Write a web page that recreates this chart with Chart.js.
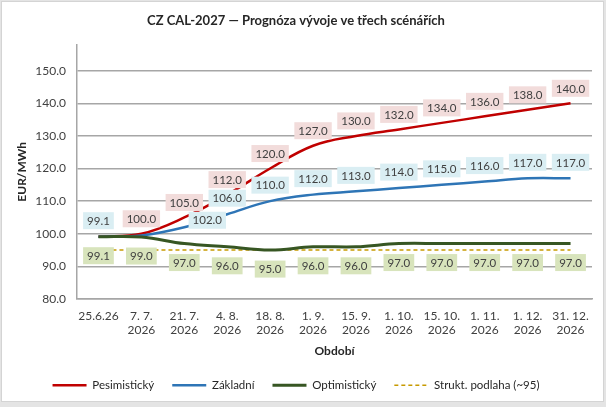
<!DOCTYPE html>
<html>
<head>
<meta charset="utf-8">
<script src="https://cdn.jsdelivr.net/npm/chart.js@4"></script>
<style>
  html, body { margin: 0; padding: 0; background: #e4e4e4; }
  #frame { position: absolute; left: 1px; top: 1px; width: 601px; height: 399px; background: #fff; border: 1px solid #d4d4d4; }
  #wrap { position: absolute; left: 0; top: 0; width: 606px; height: 407px; }
</style>
</head>
<body>
<div id="frame"></div>
<div id="wrap"><canvas id="mainChart"></canvas></div>
<script>
const periods = ['25.6.26', ['7. 7.', '2026'], ['21. 7.', '2026'], ['4. 8.', '2026'], ['18. 8.', '2026'],
  ['1. 9.', '2026'], ['15. 9.', '2026'], ['1. 10.', '2026'], ['15. 10.', '2026'], ['1. 11.', '2026'],
  ['1. 12.', '2026'], ['31. 12.', '2026']];
const pesimisticky = [99.1, 100.0, 105.0, 112.0, 120.0, 127.0, 130.0, 132.0, 134.0, 136.0, 138.0, 140.0];
const zakladni = [99.1, 99.5, 102.0, 106.0, 110.0, 112.0, 113.0, 114.0, 115.0, 116.0, 117.0, 117.0];
const optimisticky = [99.1, 99.0, 97.0, 96.0, 95.0, 96.0, 96.0, 97.0, 97.0, 97.0, 97.0, 97.0];
const podlaha = [95, 95, 95, 95, 95, 95, 95, 95, 95, 95, 95, 95];
const yTicks = [80, 90, 100, 110, 120, 130, 140, 150];

const FONT = 'Lato';

// popisky hodnot v rámečcích (Chart.js bez datalabels pluginu)
const valueLabels = {
  id: 'valueLabels',
  afterDatasetsDraw(chart) {
    const ctx = chart.ctx;
    chart.data.datasets.forEach((ds, i) => {
      const opt = ds.valueLabels;
      if (!opt) return;
      const meta = chart.getDatasetMeta(i);
      ctx.save();
      ctx.font = '11.5px ' + FONT;
      ctx.textAlign = 'center';
      ctx.textBaseline = 'middle';
      meta.data.forEach((pt, j) => {
        if (opt.skip.includes(j)) return;
        const shift = opt.shift[j] || [0, 0];
        const x = pt.x + shift[0];
        const y = pt.y + opt.dy + shift[1];
        const text = ds.data[j].toFixed(1);
        const w = ctx.measureText(text).width + 8;
        const h = 17;
        ctx.fillStyle = opt.bg;
        ctx.fillRect(x - w / 2, y - h / 2, w, h);
        ctx.fillStyle = '#404040';
        ctx.fillText(text, x, y + 0.5);
      });
      ctx.restore();
    });
  }
};

const ctxMain = document.getElementById('mainChart').getContext('2d');

const mainChart = new Chart(ctxMain, {
  type: 'line',
  data: {
    labels: periods,
    datasets: [{
      label: 'Pesimistický',
      data: pesimisticky,
      borderColor: '#C00000',
      backgroundColor: '#C00000',
      borderWidth: 2.5,
      order: 2,
      valueLabels: { bg: '#F2DCDB', dy: -15, skip: [0], shift: {} }
    }, {
      label: 'Základní',
      data: zakladni,
      borderColor: '#2E75B6',
      backgroundColor: '#2E75B6',
      borderWidth: 2.5,
      order: 1,
      valueLabels: { bg: '#DAEEF3', dy: -16, skip: [1], shift: { 2: [23, 9] } }
    }, {
      label: 'Optimistický',
      data: optimisticky,
      borderColor: '#375623',
      backgroundColor: '#375623',
      borderWidth: 3,
      order: 0,
      valueLabels: { bg: '#D8E4BC', dy: 19, skip: [], shift: {} }
    }, {
      label: 'Strukt. podlaha (~95)',
      data: podlaha,
      borderColor: '#C79A00',
      backgroundColor: '#C79A00',
      borderWidth: 1.5,
      borderDash: [4, 3],
      tension: 0,
      order: 3
    }]
  },
  options: {
    responsive: true,
    maintainAspectRatio: false,
    animation: false,
    layout: { padding: { left: 0, right: 14, top: 0, bottom: 6 } },
    elements: {
      point: { radius: 0 },
      line: { tension: 0.4 }
    },
    scales: {
      x: {
        offset: true,
        afterFit: s => { s.height = 62.5; },
        grid: { display: false, drawTicks: false, offset: true },
        border: { display: true, color: '#A6A6A6', width: 1.5 },
        ticks: {
          autoSkip: false,
          maxRotation: 0,
          padding: 10,
          color: '#404040',
          font: { family: FONT, size: 12 }
        },
        title: {
          display: true,
          text: 'Období',
          color: '#262626',
          padding: { top: 0, bottom: 3.3 },
          font: { family: FONT, size: 12, weight: 'bold' }
        }
      },
      y: {
        min: 80,
        max: 158,
        afterFit: s => { s.width = 77; },
        afterBuildTicks: scale => {
          scale.ticks = yTicks.map(v => ({ value: v }));
        },
        grid: { color: '#A6A6A6', lineWidth: 1.5, drawTicks: false },
        border: { display: true, color: '#A6A6A6', width: 1.5 },
        ticks: {
          padding: 11,
          color: '#404040',
          font: { family: FONT, size: 12 },
          callback: v => v.toFixed(1)
        },
        title: {
          display: true,
          text: 'EUR/MWh',
          color: '#262626',
          padding: { top: 15, bottom: 6 },
          font: { family: FONT, size: 12, weight: 'bold' }
        }
      }
    },
    plugins: {
      title: {
        display: true,
        text: 'CZ CAL-2027 — Prognóza vývoje ve třech scénářích',
        color: '#262626',
        padding: { top: 13, bottom: 16 },
        font: { family: FONT, size: 13, weight: 'bold' }
      },
      legend: {
        position: 'bottom',
        labels: {
          usePointStyle: true,
          pointStyle: 'line',
          pointStyleWidth: 34,
          padding: 18,
          color: '#262626',
          font: { family: FONT, size: 11.5 },
          sort: (a, b) => a.datasetIndex - b.datasetIndex,
          generateLabels: chart => Chart.defaults.plugins.legend.labels.generateLabels(chart).map(item => {
            const ds = chart.data.datasets[item.datasetIndex];
            item.strokeStyle = ds.borderColor;
            item.lineWidth = ds.borderWidth;
            item.lineDash = ds.borderDash || [];
            return item;
          })
        }
      },
      tooltip: { enabled: false }
    }
  },
  plugins: [valueLabels]
});
</script>
</body>
</html>
